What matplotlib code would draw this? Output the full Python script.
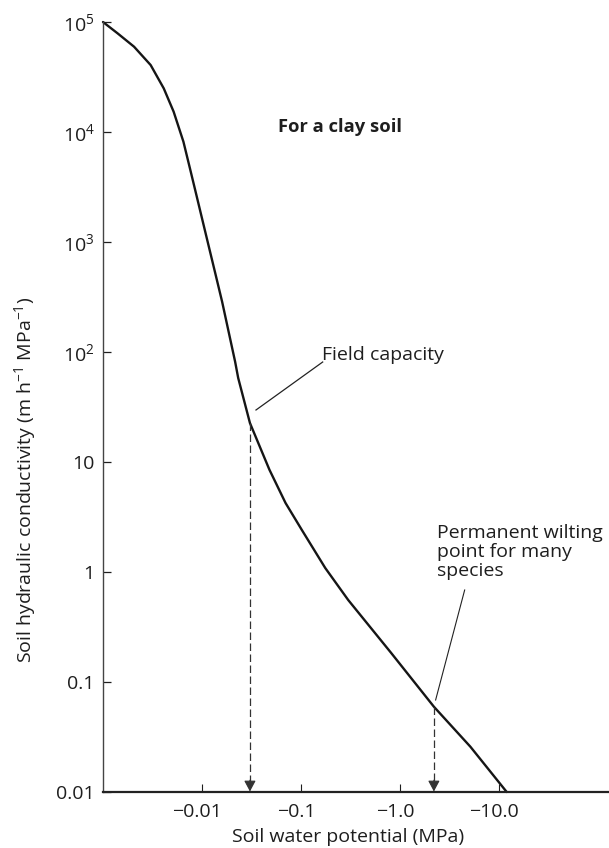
import numpy as np
import matplotlib
matplotlib.use("Agg")
import matplotlib.pyplot as plt
import matplotlib.transforms as mtransforms
from matplotlib.ticker import FixedLocator, FixedFormatter, NullLocator

plt.rcParams['font.family'] = ['Open Sans', 'DejaVu Sans']
plt.rcParams['mathtext.default'] = 'regular'

# ---- data ----
water_potential = [-0.001, -0.001403, -0.00206, -0.00303, -0.00411, -0.00517, -0.00649,
                   -0.00755, -0.00878, -0.01019, -0.01183, -0.01375, -0.01596, -0.01857,
                   -0.0216, -0.0232, -0.0305, -0.048, -0.0698, -0.102, -0.1758, -0.30,
                   -0.813, -2.20, -5.14, -11.97]
conductivity = [1.0e5, 7.89e4, 5.96e4, 4.06e4, 2.49e4, 1.53e4, 8.17e3,
                4.68e3, 2.67e3, 1.53e3, 877, 501, 287, 153,
                81.7, 58.1, 22.6, 8.5, 4.24, 2.41, 1.087, 0.556,
                0.184, 0.0596, 0.0258, 0.01]

field_capacity_psi = -0.0305
field_capacity_k = 22.6
wilting_psi = -2.20
wilting_k = 0.0596

x_ticks = [0.01, 0.1, 1.0, 10.0]
x_tick_labels = ['\u22120.01', '\u22120.1', '\u22121.0', '\u221210.0']
y_ticks = [1e5, 1e4, 1e3, 1e2, 10, 1, 0.1, 0.01]
y_tick_labels = ['$10^5$', '$10^4$', '$10^3$', '$10^2$', '10', '1', '0.1', '0.01']

W, H = 609, 848
FS = 14
TXT = '#1e1e1e'
fig = plt.figure(figsize=(W / 100, H / 100), dpi=100)
left_px, right_px, top_px, bot_px = 103, 609, 22, 792
ax = fig.add_axes([left_px / W, (H - bot_px) / H, (right_px - left_px) / W, (bot_px - top_px) / H])
ax.set_xscale('log')
ax.set_yscale('log')
ax.set_xlim(1e-3, 10 ** (-3 + (right_px - left_px) / 99.0))
ax.set_ylim(0.01, 1e5)

mag = [-v for v in water_potential]
ax.plot(mag, conductivity, color='#151515', lw=1.7, clip_on=False, solid_capstyle='round',
        solid_joinstyle='round')

# dashed drop lines with arrowheads
for psi, k in [(field_capacity_psi, field_capacity_k), (wilting_psi, wilting_k)]:
    ax.plot([-psi, -psi], [k, 0.0125], color='#333333', lw=0.9, linestyle=(0, (6, 2.8)))
    ax.annotate('', xy=(-psi, 0.0101), xytext=(-psi, 0.0128),
                arrowprops=dict(arrowstyle='-|>,head_length=0.6,head_width=0.32', color='#333333',
                                lw=0.8, mutation_scale=11, shrinkA=0, shrinkB=0))

# leader lines
ax.plot([0.0351, 0.1656], [29.7, 81.1], color='#222222', lw=0.9)
ax.plot([2.29, 4.50], [0.0686, 0.686], color='#222222', lw=0.8)

# text labels placed in figure pixels
def ftext(px, py, s, size=FS, **kw):
    fig.text(px / W, 1 - py / H, s, fontsize=size, color=TXT, **kw)

ftext(278, 127, 'For a clay soil', size=13.2, fontweight='bold', ha='left', va='center')
ftext(322, 355, 'Field capacity', ha='left', va='center')
ftext(437, 552, 'Permanent wilting\npoint for many\nspecies', ha='left', va='center',
      linespacing=1.1)

# axes styling
for s in ['top', 'right']:
    ax.spines[s].set_visible(False)
ax.spines['left'].set_linewidth(1.0)
ax.spines['bottom'].set_linewidth(1.6)
ax.spines['left'].set_color('#444444')
ax.spines['bottom'].set_color('#222222')

ax.xaxis.set_major_locator(FixedLocator(x_ticks))
ax.xaxis.set_major_formatter(FixedFormatter(x_tick_labels))
ax.xaxis.set_minor_locator(NullLocator())
ax.yaxis.set_major_locator(FixedLocator(y_ticks))
ax.yaxis.set_major_formatter(FixedFormatter(y_tick_labels))
ax.yaxis.set_minor_locator(NullLocator())

ax.tick_params(axis='x', direction='in', length=6, width=0.8, pad=8, labelsize=FS, colors=TXT)
ax.tick_params(axis='y', direction='in', length=6, width=0.9, pad=6, labelsize=FS, colors=TXT)

# x tick labels sit slightly left of their ticks in the reference
shift = mtransforms.ScaledTranslation(-5 / 100, 0, fig.dpi_scale_trans)
for lab in ax.get_xticklabels():
    lab.set_transform(lab.get_transform() + shift)

ax.set_xlabel('Soil water potential (MPa)', fontsize=FS, color=TXT)
ax.xaxis.set_label_coords((348 - left_px) / (right_px - left_px), -(828 - bot_px) / (bot_px - top_px))
ax.set_ylabel('Soil hydraulic conductivity (m h$^{-1}$ MPa$^{-1}$)', fontsize=FS, color=TXT)
ax.yaxis.set_label_coords((38 - left_px) / (right_px - left_px), (bot_px - 480) / (bot_px - top_px))

fig.savefig('out.png', dpi=100, facecolor='white')
